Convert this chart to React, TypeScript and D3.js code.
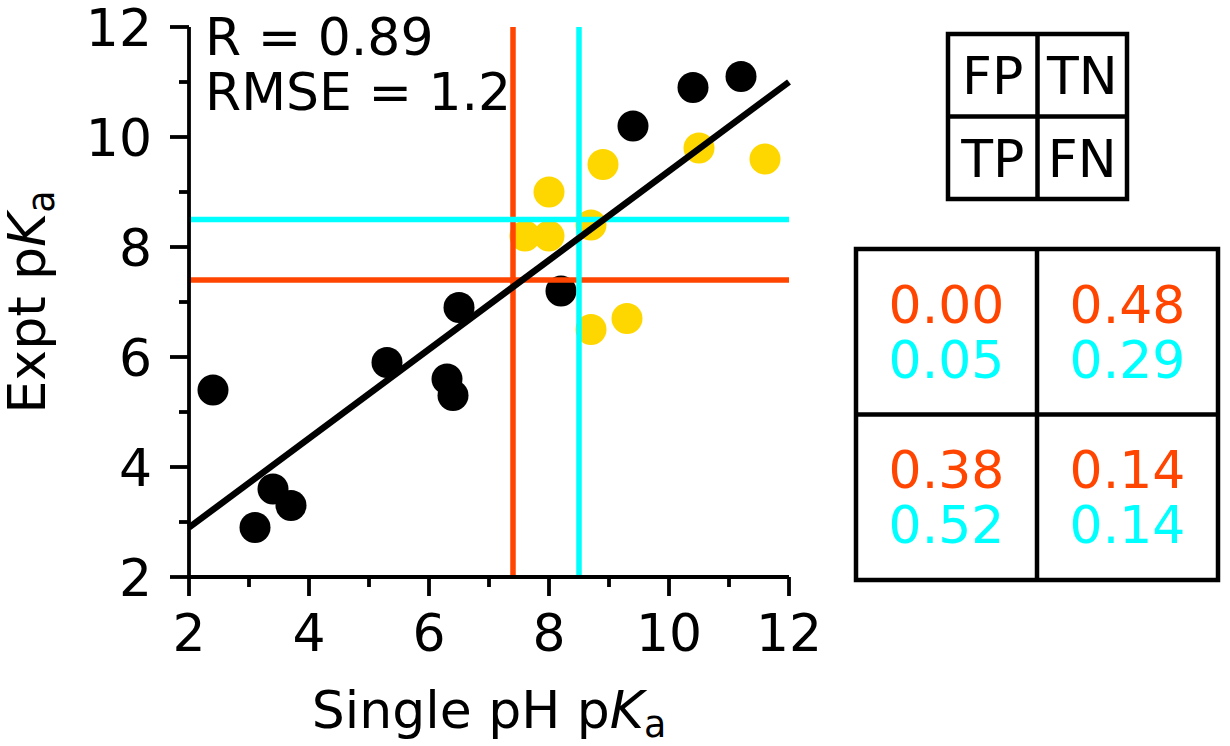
import React from "react";
import * as d3 from "d3";

// scatter data: single pH pKa (x) vs experimental pKa (y)
const blackX = [2.4, 3.1, 3.4, 3.7, 5.3, 6.3, 6.4, 6.5, 8.2, 9.4, 10.4, 11.2];
const blackY = [5.4, 2.9, 3.6, 3.3, 5.9, 5.6, 5.3, 6.9, 7.2, 10.2, 10.9, 11.1];
const goldX = [7.6, 8.0, 8.0, 8.7, 8.9, 8.7, 9.3, 10.5, 11.6];
const goldY = [8.2, 9.0, 8.2, 8.4, 9.5, 6.5, 6.7, 9.8, 9.6];

const fitX = [2, 12];
const fitY = [2.9, 11.0];

const thresholds = [7.4, 8.5];
const thresholdColors = ["#ff4500", "#00ffff"];

const ticks = [2, 3, 4, 5, 6, 7, 8, 9, 10, 11, 12];
const tickLabels = ["2", "4", "6", "8", "10", "12"];

const statLines = ["R = 0.89", "RMSE = 1.2"];

const keyCells = [["FP", "TN"], ["TP", "FN"]];
const orangeRates = [["0.00", "0.48"], ["0.38", "0.14"]];
const cyanRates = [["0.05", "0.29"], ["0.52", "0.14"]];

const FONT = "DejaVu Sans";
const FS = 52;

const App = () => {
  const x = d3.scaleLinear().domain([2, 12]).range([189, 789]);
  const y = d3.scaleLinear().domain([2, 12]).range([577, 27]);

  const fitPath = d3.line<number>()
    .x(d => x(d))
    .y((d, i) => y(fitY[i]))(fitX) || "";

  // small key table and big rate table
  const keyCol = d3.scaleBand<number>().domain([0, 1]).range([948, 1127]);
  const keyRow = d3.scaleBand<number>().domain([0, 1]).range([34, 199]);
  const rateCol = d3.scaleBand<number>().domain([0, 1]).range([856, 1218]);
  const rateRow = d3.scaleBand<number>().domain([0, 1]).range([249, 580]);

  const tableLines = (col, row, sw) => (
    <g stroke="#000" strokeWidth={sw} fill="none">
      <rect x={col.range()[0]} y={row.range()[0]}
        width={col.range()[1] - col.range()[0]} height={row.range()[1] - row.range()[0]} />
      <line x1={col(1)} x2={col(1)} y1={row.range()[0]} y2={row.range()[1]} />
      <line x1={col.range()[0]} x2={col.range()[1]} y1={row(1)} y2={row(1)} />
    </g>
  );

  const pKa = (prefix) => (
    <>
      {prefix}p<tspan fontStyle="italic">K</tspan>
      <tspan fontSize={FS * 0.7} dy={9}>a</tspan>
    </>
  );

  return (
    <svg width={1230} height={746} style={{ position: "absolute", left: 0, top: 0, background: "#fff" }}
      fontFamily={FONT} fontSize={FS}>
      <rect width={1230} height={746} fill="#fff" />

      {/* points */}
      {blackX.map((v, i) => (
        <circle key={"b" + i} cx={x(v)} cy={y(blackY[i])} r={15.5} fill="#000" />
      ))}
      {goldX.map((v, i) => (
        <circle key={"g" + i} cx={x(v)} cy={y(goldY[i])} r={15.5} fill="#ffd700" />
      ))}

      {/* threshold lines */}
      {thresholds.map((t, i) => (
        <g key={"t" + i} stroke={thresholdColors[i]} strokeWidth={5.5}>
          <line x1={x(t)} x2={x(t)} y1={y(12)} y2={y(2)} />
          <line x1={x(2)} x2={x(12)} y1={y(t)} y2={y(t)} />
        </g>
      ))}

      {/* fit line */}
      <path d={fitPath} stroke="#000" strokeWidth={6.5} fill="none" />

      {/* axes */}
      <g stroke="#000" strokeWidth={3.8}>
        <line x1={x(2)} x2={x(2)} y1={y(12)} y2={y(2) + 1.9} />
        <line x1={x(2) - 1.9} x2={x(12)} y1={y(2)} y2={y(2)} />
        {ticks.map(t => {
          const len = t % 2 === 0 ? 19 : 10;
          return (
            <g key={"k" + t}>
              <line x1={x(t)} x2={x(t)} y1={y(2)} y2={y(2) + len} />
              <line x1={x(2)} x2={x(2) - len} y1={y(t)} y2={y(t)} />
            </g>
          );
        })}
      </g>
      {tickLabels.map(l => (
        <g key={"l" + l}>
          <text x={x(+l)} y={651} textAnchor="middle">{l}</text>
          <text x={152} y={y(+l) + 19} textAnchor="end">{l}</text>
        </g>
      ))}

      <text x={x(7)} y={728} textAnchor="middle">{pKa("Single pH ")}</text>
      <text transform={`translate(45, ${y(7)}) rotate(-90)`} textAnchor="middle">{pKa("Expt ")}</text>

      {statLines.map((s, i) => (
        <text key={s} x={205} y={55 + i * 55}>{s}</text>
      ))}

      {/* key table */}
      {tableLines(keyCol, keyRow, 4.5)}
      {keyCells.map((row, r) => row.map((c, ci) => (
        <text key={c} x={keyCol(ci) + keyCol.bandwidth() / 2}
          y={keyRow(r) + keyRow.bandwidth() / 2 + 19} textAnchor="middle">{c}</text>
      )))}

      {/* rate table */}
      {tableLines(rateCol, rateRow, 4.5)}
      {orangeRates.map((row, r) => row.map((v, ci) => {
        const cx = rateCol(ci) + rateCol.bandwidth() / 2;
        const cy = rateRow(r) + rateRow.bandwidth() / 2;
        return (
          <g key={"r" + r + ci} textAnchor="middle">
            <text x={cx} y={cy - 9} fill="#ff4500">{v}</text>
            <text x={cx} y={cy + 46} fill="#00ffff">{cyanRates[r][ci]}</text>
          </g>
        );
      }))}
    </svg>
  );
};

export default App;
